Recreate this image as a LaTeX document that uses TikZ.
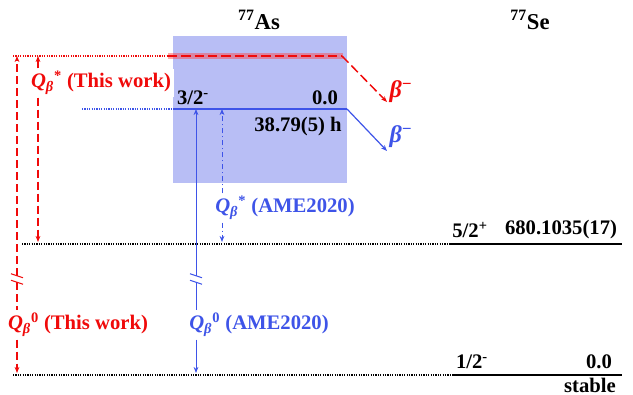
\documentclass[tikz,border=0pt]{standalone}
\usepackage{fontspec}
\setmainfont{Liberation Serif}
\usepackage{xcolor}
\usetikzlibrary{arrows.meta,positioning,calc}
\definecolor{boxblue}{RGB}{184,190,245}
\definecolor{qblue}{RGB}{62,84,232}
\definecolor{qred}{RGB}{240,10,10}
\newcommand{\Qb}[1]{\textit{Q}\textsubscript{\textit{β}}\textsuperscript{#1}}
\newcommand{\bminus}{\textit{β}\textsuperscript{−}}

\begin{document}
\begin{tikzpicture}[x=0.75pt, y=-0.75pt,
    lbl/.style={font=\fontsize{15.5}{18}\selectfont\bfseries, inner sep=1pt},
    qlbl/.style={lbl, fill=white, inner sep=2pt},
    blbl/.style={font=\fontsize{18}{20}\selectfont\bfseries, inner sep=1pt},
    ttl/.style={font=\fontsize{17}{20}\selectfont\bfseries},
    lvl/.style={line width=1.5pt},
    dots/.style={line width=0.9pt, dash pattern=on 0.9pt off 0.9pt},
    arr/.style={-{Stealth[length=4.5pt,width=3.5pt]}},
    rdash/.style={qred, line width=0.9pt, dash pattern=on 6pt off 3pt},
    bdashdot/.style={qblue, line width=0.7pt, dash pattern=on 4pt off 2pt on 1pt off 2pt},
    brk/.style={inner sep=0pt, minimum width=0pt, minimum height=4.5pt},
]
    \useasboundingbox (0,0) rectangle (633,395);

    % Titles
    \node[ttl] (as) at (259,20) {\textsuperscript{77}As};
    \node[ttl] (se) at (530,20) {\textsuperscript{77}Se};

    % 77As ground state window
    \fill[boxblue] (173,36) rectangle (347,183);
    \fill[red!75, opacity=0.45] (168,53) rectangle (343,59);

    % Levels
    \coordinate (rL) at (168,56);
    \coordinate (rR) at (342,56);
    \coordinate (rEnd) at (387,102);
    \coordinate (bL) at (173,109);
    \coordinate (bR) at (347,109);
    \coordinate (bEnd) at (387,151);
    \coordinate (eL) at (450,244);
    \coordinate (eR) at (622,244);
    \coordinate (gL) at (452,375);
    \coordinate (gR) at (622,375);

    \draw[qred, line width=1.1pt, dash pattern=on 7pt off 3pt] (rL) -- (rR);
    \draw[qred, line width=1.1pt, dash pattern=on 7pt off 3pt, arr] (rR) -- (rEnd);
    \draw[qred, dots] (13,56) -- (rL);
    \draw[qblue, line width=0.9pt] (bL) -- (bR);
    \draw[qblue, line width=0.9pt, arr] (bR) -- (bEnd);
    \draw[qblue, dots] (82,109) -- (bL);
    \draw[lvl] (eL) -- (eR);
    \draw[dots] (22,244) -- (eL);
    \draw[lvl] (gL) -- (gR);
    \draw[dots] (13,375) -- (gL);

    % Level labels
    \node[blbl, text=qred] (bmR) at (401,92) {\bminus};
    \node[blbl, text=qblue] (bmB) at (401,137) {\bminus};
    \node[lbl] (asJ) at (193,98) {3/2\textsuperscript{-}};
    \node[lbl] (asE) at (325,98) {0.0};
    \node[lbl] (asT) at (298,127) {38.79(5) h};
    \node[lbl] (exJ) at (470,230) {5/2\textsuperscript{+}};
    \node[lbl] (exE) at (561,230) {680.1035(17)};
    \node[lbl] (gsJ) at (472,362) {1/2\textsuperscript{-}};
    \node[lbl] (gsE) at (599,362) {0.0};
    \node[lbl] (gsT) at (590,385) {stable};

    % Q values, this work
    \coordinate (q0rTop) at (17,56);
    \coordinate (q0rBot) at (17,373);
    \node[brk] (q0rBrk) at (17,279) {};
    \node[qlbl, text=qred] (q0r) at (78,325) {\Qb{0} (This work)};
    \draw[rdash, arr] (q0rBrk.north) -- (q0rTop);
    \draw[rdash] (q0rBrk.south) -- (q0rBrk.south |- q0r.north);
    \draw[rdash, arr] (q0rBrk.south |- q0r.south) -- (q0rBot);
    \draw[qred, line width=0.8pt] ([shift={(-6,-2)}]q0rBrk.north) -- ([shift={(6,2)}]q0rBrk.north);
    \draw[qred, line width=0.8pt] ([shift={(-6,-2)}]q0rBrk.south) -- ([shift={(6,2)}]q0rBrk.south);

    \coordinate (qsrTop) at (38,56);
    \coordinate (qsrBot) at (38,242);
    \node[qlbl, text=qred] (qsr) at (101,83) {\Qb{*} (This work)};
    \draw[rdash, arr] (qsrTop |- qsr.north) -- (qsrTop);
    \draw[rdash, arr] (qsrTop |- qsr.south) -- (qsrBot);

    % Q values, AME2020
    \coordinate (q0bTop) at (196,109);
    \coordinate (q0bBot) at (196,373);
    \node[brk] (q0bBrk) at (196,279) {};
    \node[qlbl, text=qblue] (q0b) at (259,325) {\Qb{0} (AME2020)};
    \draw[qblue, line width=0.7pt, arr] (q0bBrk.north) -- (q0bTop);
    \draw[qblue, line width=0.7pt] (q0bBrk.south) -- (q0bBrk.south |- q0b.north);
    \draw[qblue, line width=0.7pt, arr] (q0bBrk.south |- q0b.south) -- (q0bBot);
    \draw[qblue, line width=0.8pt] ([shift={(-6,-2)}]q0bBrk.north) -- ([shift={(6,2)}]q0bBrk.north);
    \draw[qblue, line width=0.8pt] ([shift={(-6,-2)}]q0bBrk.south) -- ([shift={(6,2)}]q0bBrk.south);

    \coordinate (qsbTop) at (222,109);
    \coordinate (qsbBot) at (222,242);
    \node[qlbl, text=qblue] (qsb) at (285,208) {\Qb{*} (AME2020)};
    \draw[bdashdot, arr] (qsbTop |- qsb.north) -- (qsbTop);
    \draw[bdashdot, arr] (qsbTop |- qsb.south) -- (qsbBot);
\end{tikzpicture}
\end{document}
